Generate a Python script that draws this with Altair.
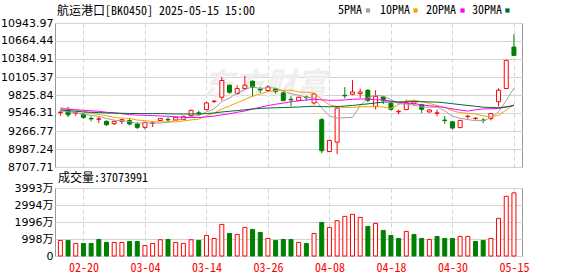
import altair as alt
import pandas as pd

# ---------------- data ----------------
dates = ["02-17","02-18","02-19","02-20","02-21","02-24","02-25","02-26","02-27","02-28",
         "03-03","03-04","03-05","03-06","03-07","03-10","03-11","03-12","03-13","03-14",
         "03-17","03-18","03-19","03-20","03-21","03-24","03-25","03-26","03-27","03-28",
         "03-31","04-01","04-02","04-03","04-07","04-08","04-09","04-10","04-11","04-14",
         "04-15","04-16","04-17","04-18","04-21","04-22","04-23","04-24","04-25","04-28",
         "04-29","04-30","05-06","05-07","05-08","05-09","05-12","05-13","05-14","05-15"]

opens  = [9553,9583,9544,9531,9463,9449,9417,9381,9417,9428,
          9375,9323,9386,9428,9448,9437,9443,9506,9549,9599,
          9725,9791,9978,9848,9926,10040,9915,9895,9920,9858,
          9760,9739,9794,9702,9443,8949,9094,9822,9838,9848,
          9900,9650,9796,9697,9565,9599,9697,9677,9562,9541,
          9436,9409,9319,9492,9460,9437,9459,9721,9926,10570]
highs  = [9572,9645,9553,9541,9494,9494,9432,9424,9448,9459,
          9406,9409,9417,9464,9479,9487,9502,9596,9583,9721,
          9736,10102,9985,9978,10118,10051,9947,9978,9925,9884,
          9806,9799,9817,9858,9468,9128,9650,9947,10056,9926,
          9915,9900,9806,9712,9598,9752,9744,9690,9604,9599,
          9500,9424,9437,9518,9479,9468,9541,9931,10367,10768]
lows   = [9502,9483,9502,9453,9417,9391,9343,9359,9375,9354,
          9297,9292,9328,9424,9401,9432,9440,9502,9510,9588,
          9702,9740,9848,9833,9923,9806,9858,9873,9848,9728,
          9650,9736,9739,9677,8923,8941,8907,9771,9822,9780,
          9713,9603,9687,9583,9526,9596,9666,9546,9557,9495,
          9378,9292,9316,9456,9440,9390,9432,9646,9923,10437]
closes = [9561,9518,9549,9479,9454,9454,9365,9417,9443,9375,
          9323,9401,9391,9459,9440,9479,9494,9588,9541,9702,
          9732,10051,9869,9926,9978,9947,9905,9951,9884,9739,
          9750,9791,9786,9842,8960,9121,9624,9813,9873,9873,
          9744,9806,9744,9604,9572,9705,9728,9604,9593,9549,
          9428,9313,9432,9496,9465,9429,9537,9900,10364,10441]

ma5  = [9581,9565,9550,9526,9512,9492,9461,9434,9427,9411,
        9384,9392,9388,9391,9403,9434,9453,9492,9509,9562,
        9612,9723,9779,9857,9911,9955,9925,9942,9933,9886,
        9847,9824,9791,9782,9626,9500,9467,9472,9478,9662,
        9786,9822,9808,9755,9691,9684,9668,9640,9638,9637,
        9581,9498,9464,9444,9427,9428,9472,9565,9740,9934]
ma10 = [9628,9612,9593,9573,9545,9522,9503,9480,9467,9462,
        9437,9427,9411,9408,9408,9409,9422,9439,9450,9503,
        9545,9607,9657,9705,9758,9808,9841,9878,9896,9899,
        9900,9874,9866,9858,9755,9673,9645,9631,9631,9643,
        9643,9645,9640,9617,9676,9735,9746,9724,9696,9663,
        9632,9582,9551,9542,9531,9504,9484,9514,9592,9681]
ma20 = [9612,9604,9596,9589,9581,9573,9557,9550,9534,9522,
        9514,9511,9506,9500,9495,9487,9480,9476,9475,9487,
        9498,9518,9534,9557,9578,9607,9635,9662,9682,9701,
        9719,9737,9748,9760,9752,9744,9744,9749,9760,9763,
        9763,9755,9748,9732,9713,9701,9691,9674,9659,9648,
        9632,9609,9592,9576,9596,9610,9612,9617,9640,9666]
ma30 = [9593,9584,9573,9562,9557,9553,9547,9545,9542,9539,
        9537,9537,9537,9537,9534,9531,9531,9531,9531,9537,
        9547,9562,9573,9584,9596,9609,9617,9623,9628,9631,
        9635,9640,9645,9651,9646,9643,9646,9654,9663,9677,
        9688,9702,9715,9719,9719,9721,9723,9721,9719,9715,
        9705,9690,9677,9663,9651,9637,9631,9628,9640,9662]

# volume in 万 (10k shares)
vols = [913,913,736,736,736,972,795,795,795,854,
        854,618,736,954,972,795,736,954,913,1207,
        1031,1855,1325,1266,1678,1561,1384,1031,913,972,
        972,795,736,1325,1973,1678,2073,2327,2444,2268,
        1738,1914,1502,1207,1031,1443,1266,1031,972,1149,
        1031,1031,1149,1149,854,913,1031,2209,3505,3707.3991]
vol_dir = ["u","d","u","d","d","d","d","u","u","d",
           "d","u","u","u","d","u","u","u","d","u",
           "u","u","d","u","u","d","d","u","d","d",
           "d","u","d","u","d","u","u","u","u","u",
           "d","u","d","d","d","u","d","d","u","d",
           "d","d","u","u","d","d","u","u","u","u"]

price_ticks = ["8707.71","8987.24","9266.77","9546.31","9825.84",
               "10105.37","10384.91","10664.44","10943.97"]
vol_ticks = [0, 998, 1996, 2994, 3993]
label_idx = [3, 11, 19, 27, 35, 43, 51, 59]
ma_names = ["5PMA", "10PMA", "20PMA", "30PMA"]
ma_colors = ["#a0a0a0", "#f5a300", "#ff00ff", "#006a30"]
title_text = "航运港口[BK0450] 2025-05-15 15:00"

# ---------------- tables ----------------
n = len(dates)
df = pd.DataFrame({"i": list(range(n)), "date": dates, "open": opens, "high": highs,
                   "low": lows, "close": closes, "vol": vols, "vdir": vol_dir})
df["dir"] = ["u" if c > o else "d" for o, c in zip(opens, closes)]

ma_long = pd.concat([
    pd.DataFrame({"i": list(range(n)), "ma": name, "v": vals})
    for name, vals in zip(ma_names, [ma5, ma10, ma20, ma30])
])

RED = "#ff0000"
GREEN = "#008000"
MONO = "Noto Sans Mono CJK SC, Noto Sans CJK SC, DejaVu Sans Mono, monospace"
SANS = "DejaVu Sans, Noto Sans CJK SC, sans-serif"
GRID = "#d4d4d4"

W = 467
H_PRICE = 144
H_VOL = 68

xscale = alt.Scale(domain=[-0.7, 60.05], nice=False, zero=False, padding=0)
label_expr = "[" + ",".join(repr(d) for d in dates) + "][datum.value]"

x_price = alt.X("i:Q", scale=xscale, title=None,
                axis=alt.Axis(values=label_idx, labels=False, ticks=False, domain=False,
                              grid=True, gridDash=[4, 3], gridColor=GRID))
x_vol = alt.X("i:Q", scale=xscale, title=None,
              axis=alt.Axis(values=label_idx, labelExpr=label_expr, ticks=False, domain=False,
                            grid=True, gridDash=[4, 3], gridColor=GRID,
                            labelColor=RED, labelFont=MONO, labelFontSize=12,
                            labelPadding=6, labelOverlap=False))

pscale = alt.Scale(domain=[8707.71, 10943.97], nice=False, zero=False)
y_axis_price = alt.Axis(values=[float(s) for s in price_ticks], format=".2f",
                        ticks=False, domain=False, grid=True, gridColor=GRID,
                        labelFont=SANS, labelFontSize=11, labelColor="#000000",
                        labelPadding=2, minExtent=52, maxExtent=52,
                        labelOverlap=False, labelFlush=False)

dir_stroke = alt.Scale(domain=["u", "d"], range=[RED, GREEN])
dir_fill = alt.Scale(domain=["u", "d"], range=["#ffffff", GREEN])

base = alt.Chart(df)

watermark = alt.Chart(pd.DataFrame({"t": ["东方财富"]})).mark_text(
    font="Noto Sans CJK SC", fontSize=31, fontWeight="bold", fontStyle="italic",
    color="#eeeeee", align="center", baseline="middle"
).encode(x=alt.value(210), y=alt.value(63), text="t:N")

wicks = base.mark_rule(strokeWidth=1).encode(
    x=x_price,
    y=alt.Y("low:Q", scale=pscale, axis=y_axis_price, title=None),
    y2="high:Q",
    stroke=alt.Stroke("dir:N", scale=dir_stroke, legend=None),
)
bodies = base.mark_bar(size=4, strokeWidth=1).encode(
    x=x_price,
    y=alt.Y("open:Q", scale=pscale, axis=y_axis_price, title=None),
    y2="close:Q",
    fill=alt.Fill("dir:N", scale=dir_fill, legend=None),
    stroke=alt.Stroke("dir:N", scale=dir_stroke, legend=None),
)
lines = alt.Chart(ma_long).mark_line(strokeWidth=1).encode(
    x=x_price,
    y=alt.Y("v:Q", scale=pscale, axis=y_axis_price, title=None),
    color=alt.Color("ma:N", scale=alt.Scale(domain=ma_names, range=ma_colors), legend=None),
    detail="ma:N",
)

title_layer = alt.Chart(pd.DataFrame({"t": [title_text]})).mark_text(
    font=MONO, fontSize=12, color="#000000", align="left", baseline="middle"
).encode(x=alt.value(2), y=alt.value(-12), text="t:N")

legend_layers = []
leg_text_x = [283, 325, 371, 417]
leg_sq_x = [313, 360.5, 407.5, 452.5]
for name, col, tx, sx in zip(ma_names, ma_colors, leg_text_x, leg_sq_x):
    legend_layers.append(
        alt.Chart(pd.DataFrame({"t": [name]})).mark_text(
            font=MONO, fontSize=12, color="#000000", align="left", baseline="middle"
        ).encode(x=alt.value(tx), y=alt.value(-13), text="t:N")
    )
    legend_layers.append(
        alt.Chart(pd.DataFrame({"t": [name]})).mark_point(
            shape="square", filled=True, size=18, color=col, opacity=1
        ).encode(x=alt.value(sx), y=alt.value(-12.5))
    )

price = alt.layer(watermark, wicks, bodies, lines, title_layer, *legend_layers).resolve_scale(
    color="independent", stroke="independent", fill="independent"
).properties(width=W, height=H_PRICE)

vscale = alt.Scale(domain=[0, 3993], nice=False, zero=True)
vol_bars = base.mark_bar(size=4, strokeWidth=1).encode(
    x=x_vol,
    y=alt.Y("vol:Q", scale=vscale, title=None,
            axis=alt.Axis(values=vol_ticks,
                          labelExpr="datum.value == 0 ? '0' : datum.value + '万'",
                          ticks=False, domain=False, grid=True, gridColor=GRID,
                          labelFont=SANS, labelFontSize=11, labelColor="#000000",
                          labelPadding=2, minExtent=52, maxExtent=52,
                          labelOverlap=False, labelFlush=False)),
    fill=alt.Fill("vdir:N", scale=dir_fill, legend=None),
    stroke=alt.Stroke("vdir:N", scale=dir_stroke, legend=None),
)
vol_text = "成交量:" + str(int(round(vols[-1] * 10000)))
vol_title = alt.Chart(pd.DataFrame({"t": [vol_text]})).mark_text(
    font=MONO, fontSize=12, color="#000000", align="left", baseline="middle"
).encode(x=alt.value(3), y=alt.value(-10), text="t:N")

volume = alt.layer(vol_bars, vol_title).properties(width=W, height=H_VOL)

chart = alt.vconcat(price, volume, spacing=21, bounds="flush").properties(
    padding={"left": 0, "top": 3, "right": 5, "bottom": 2},
    background="#ffffff",
).configure_view(stroke="#999999", strokeWidth=1)

chart.save("out.html", embed_options={"renderer": "svg", "actions": False})
